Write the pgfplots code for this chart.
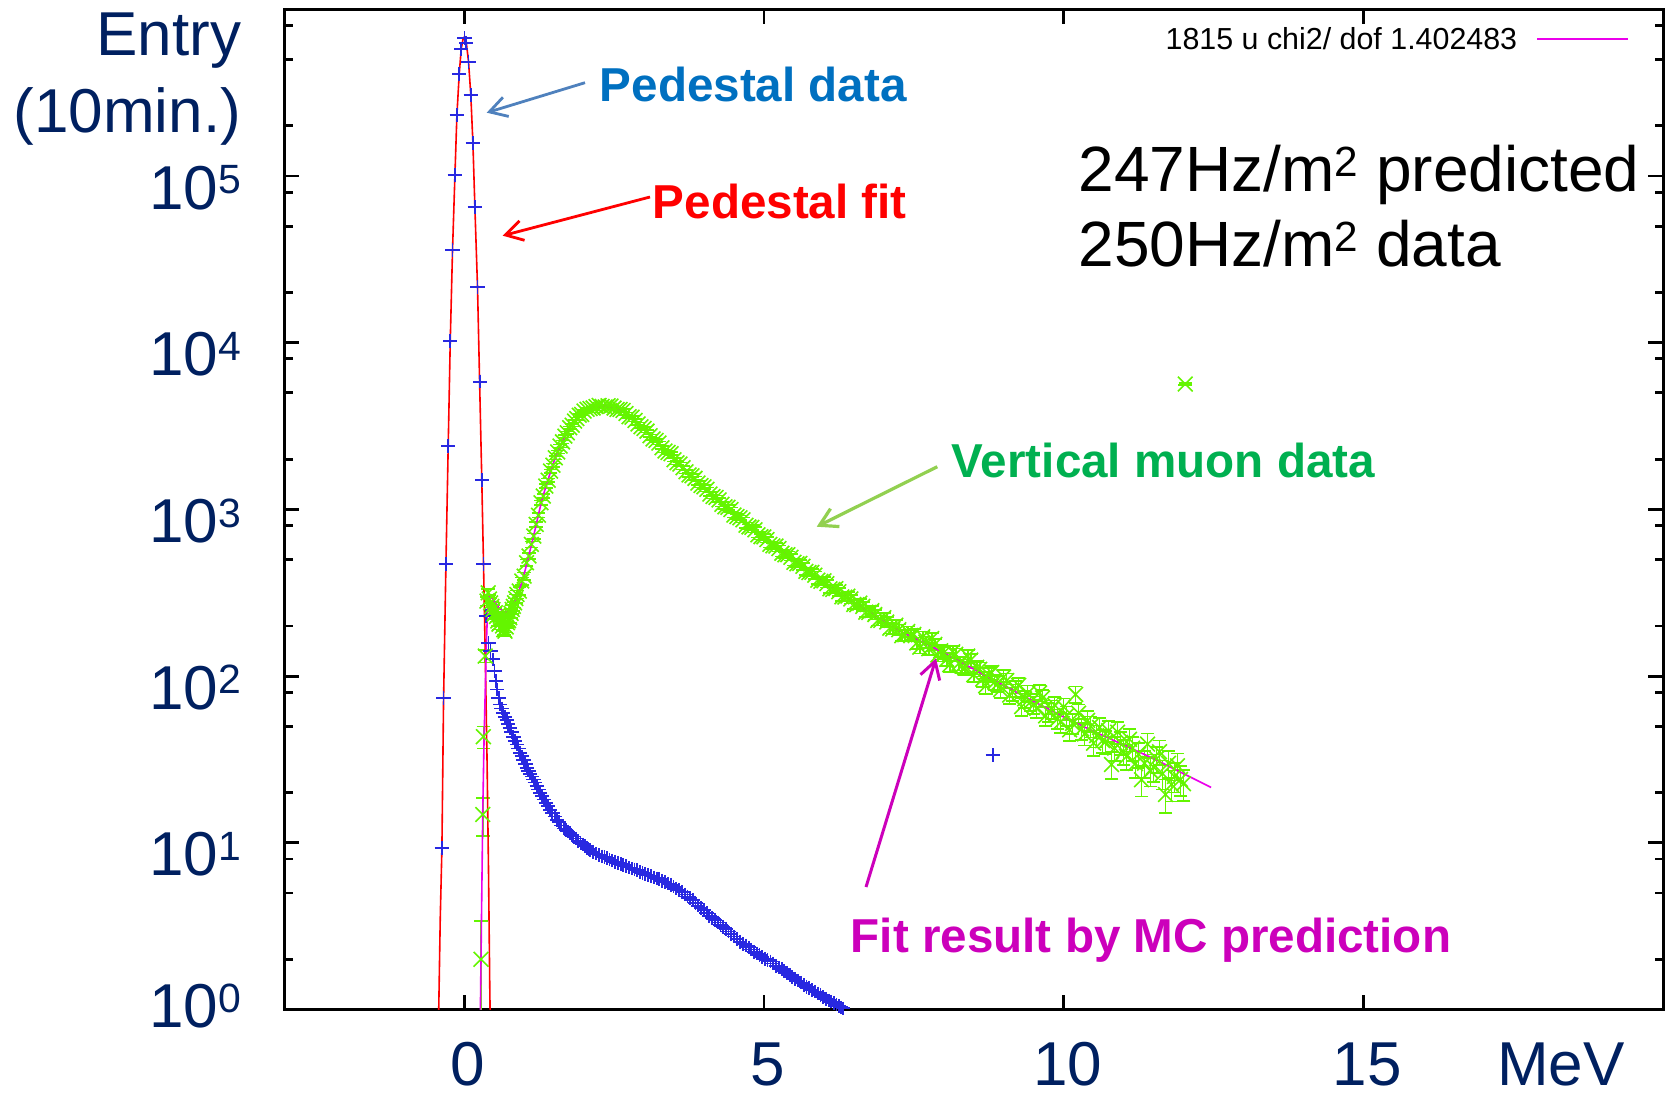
\documentclass[border=0pt]{standalone}
\usepackage{fontspec}
\setmainfont{Liberation Sans}
\usepackage{pgfplots}
\pgfplotsset{compat=1.18}
\usetikzlibrary{arrows.meta}
\definecolor{navy}{RGB}{0,32,96}
\definecolor{pedblue}{RGB}{40,40,225}
\definecolor{limeg}{RGB}{100,245,0}
\definecolor{fitmag}{RGB}{235,0,235}
\definecolor{lblblue}{RGB}{0,112,192}
\definecolor{lblgreen}{RGB}{0,176,80}
\definecolor{lblmag}{RGB}{204,0,187}
\definecolor{arrblue}{RGB}{79,129,189}
\definecolor{arrgreen}{RGB}{146,208,80}
\newcommand{\sups}[1]{\raisebox{0.245em}{\scalebox{0.66}{#1}}}

\pgfplotstableread{
x y
-0.372 9.3
-0.345 73.6
-0.305 469
-0.267 2410
-0.233 10200
-0.195 36000
-0.155 101000
-0.122 232000
-0.083 410000
-0.050 580000
0.005 670000
0.033 630000
0.072 485000
0.110 306000
0.145 158000
0.178 65000
0.222 21500
0.267 5840
0.300 1500
0.322 469
0.367 229
0.405 158
0.44 141
0.478 126
0.505 107
0.53 93.3
0.55 83.2
0.575 74.1
0.60 67.6
0.625 64
0.65 60.3
0.68 57
0.71 54.3
0.735 51.5
0.76 49.0
0.79 46
0.82 43.2
0.85 41
0.88 38.9
0.905 36.8
0.93 34.7
0.96 33
0.99 31.3
1.02 29.7
1.045 28.2
1.07 27.1
1.10 26.0
1.13 25
1.155 24.0
1.18 23
1.21 21.9
1.24 20.9
1.267 20.0
1.30 19.1
1.33 18.2
1.365 17.4
1.40 16.6
1.435 15.8
1.47 15.1
1.51 14.4
1.545 13.7
1.58 13.3
1.62 12.7
1.66 12.2
1.70 11.9
1.73 11.7
1.76 11.4
1.79 11.1
1.82 10.9
1.86 10.6
1.90 10.2
1.94 9.95
1.98 9.77
2.015 9.6
2.05 9.33
2.075 9.15
2.10 9.06
2.15 8.85
2.20 8.61
2.25 8.42
2.30 8.28
2.34 8.2
2.38 8.07
2.425 7.95
2.47 7.82
2.515 7.7
2.56 7.59
2.61 7.45
2.655 7.36
2.70 7.25
2.75 7.11
2.795 7.0
2.84 6.92
2.885 6.84
2.93 6.71
2.975 6.6
3.02 6.53
3.07 6.44
3.12 6.31
3.165 6.2
3.21 6.12
3.255 6.04
3.30 5.92
3.35 5.8
3.40 5.69
3.445 5.6
3.49 5.46
3.535 5.31
3.58 5.19
3.63 5.06
3.68 4.90
3.725 4.76
3.77 4.65
3.815 4.53
3.86 4.37
3.905 4.2
3.95 4.07
4.0 3.95
4.045 3.78
4.09 3.64
4.14 3.55
4.185 3.45
4.23 3.33
4.275 3.22
4.32 3.14
4.365 3.05
4.41 2.94
4.455 2.83
4.50 2.74
4.55 2.66
4.60 2.55
4.65 2.47
4.70 2.42
4.745 2.36
4.79 2.29
4.835 2.22
4.88 2.17
4.925 2.13
4.97 2.07
5.015 2.01
5.06 1.98
5.11 1.94
5.155 1.89
5.2 1.83
5.25 1.79
5.295 1.75
5.34 1.70
5.385 1.66
5.43 1.61
5.475 1.57
5.52 1.52
5.57 1.49
5.62 1.45
5.665 1.40
5.71 1.37
5.755 1.34
5.80 1.31
5.85 1.28
5.90 1.25
5.945 1.22
5.99 1.19
6.035 1.16
6.08 1.135
6.125 1.115
6.17 1.096
6.21 1.07
6.25 1.047
6.285 1.03
6.32 1.016
6.38 0.977
8.82 33.6
}\peddata

\pgfplotstableread{
x y ey
0.28 2.0 1.41
0.31 14.8 3.85
0.32 43.3 6.58
0.35 132 11.5
0.38 282 16.8
0.40 316 17.8
0.42 290 17.0
0.44 275 16.6
0.46 262 16.2
0.48 251 15.8
0.50 236 15.4
0.52 240 15.5
0.54 228 15.1
0.56 214 14.6
0.58 205 14.3
0.60 229 15.1
0.62 221 14.9
0.64 200 14.1
0.66 190 13.8
0.68 186 13.6
0.70 197 14.0
0.72 209 14.5
0.74 215 14.7
0.76 224 15.0
0.78 238 15.4
0.80 251 15.8
0.82 262 16.2
0.84 275 16.6
0.86 292 17.1
0.88 309 17.6
0.92 324 18.0
0.96 372 19.3
1.00 398 20.0
1.04 479 21.9
1.08 525 22.9
1.12 617 24.8
1.16 692 26.3
1.20 813 28.5
1.24 923 30.4
1.28 1096 33.1
1.32 1202 34.7
1.36 1380 37.1
1.40 1496 38.7
1.44 1698 41.2
1.48 1841 42.9
1.52 2042 45.2
1.56 2213 47.0
1.60 2399 49.0
1.64 2541 50.4
1.68 2754 52.5
1.72 2884 53.7
1.76 3090 55.6
1.80 3199 56.6
1.84 3388 58.2
1.88 3508 59.2
1.92 3673 60.6
1.96 3715 60.9
2.00 3890 62.4
2.05 3985 63.1
2.1 4027 63.5
2.15 4060 63.7
2.2 4140 64.3
2.25 4205 64.8
2.3 4150 64.4
2.35 4120 64.2
2.4 4188 64.7
2.45 4170 64.6
2.5 4055 63.7
2.55 3975 63.0
2.6 3981 63.1
2.65 3925 62.6
2.7 3758 61.3
2.75 3600 60.0
2.8 3573 59.8
2.85 3420 58.5
2.9 3258 57.1
2.95 3130 55.9
3.0 3062 55.3
3.05 2950 54.3
3.1 2767 52.6
3.15 2650 51.5
3.2 2594 50.9
3.25 2500 50.0
3.3 2344 48.4
3.35 2240 47.3
3.4 2198 46.9
3.45 2160 46.5
3.5 1986 44.6
3.55 1905 43.6
3.6 1871 43.3
3.65 1780 42.2
3.7 1683 41.0
3.75 1610 40.1
3.8 1592 39.9
3.85 1535 39.2
3.9 1439 37.9
3.95 1392 37.3
4.0 1365 36.9
4.05 1320 36.3
4.1 1236 35.2
4.15 1196 34.6
4.2 1180 34.4
4.25 1140 33.8
4.3 1072 32.7
4.35 1036 32.2
4.4 1028 32.1
4.45 998 31.6
4.5 925 30.4
4.55 905 30.1
4.6 891 29.8
4.65 866 29.4
4.7 804 28.4
4.75 785 28.0
4.8 780 27.9
4.85 755 27.5
4.9 705 26.6
4.95 686 26.2
5.0 684 26.2
5.05 660 25.7
5.1 617 24.8
5.15 604 24.6
5.2 603 24.6
5.25 582 24.1
5.3 546 23.4
5.35 534 23.1
5.4 535 23.1
5.45 516 22.7
5.5 482 22.0
5.55 472 21.7
5.6 474 21.8
5.65 456 21.4
5.7 425 20.6
5.75 418 20.4
5.8 419 20.5
5.85 403 20.1
5.9 376 19.4
5.95 370 19.2
6.0 373 19.3
6.05 359 18.9
6.1 334 18.3
6.15 331 18.2
6.2 335 18.3
6.25 321 17.9
6.3 299 17.3
6.35 298 17.3
6.4 302 17.4
6.45 290 17.0
6.5 269 16.4
6.55 268 16.4
6.6 274 16.6
6.65 262 16.2
6.7 242 15.6
6.75 241 15.5
6.8 247 15.7
6.85 234 15.3
6.9 216 14.7
6.95 216 14.7
7.0 224 15.0
7.05 211 14.5
7.1 194 13.9
7.15 192 13.9
7.2 202 14.2
7.25 190 13.8
7.3 175 13.2
7.35 177 13.3
7.4 185 13.6
7.45 175 13.2
7.5 178 13.3
7.55 158 12.6
7.6 149 12.2
7.65 172 13.1
7.7 160 12.6
7.75 146 12.1
7.8 168 13.0
7.85 155 12.4
7.9 134 11.6
7.95 142 11.9
8.0 138 11.7
8.05 126 11.2
8.1 117 10.8
8.15 140 11.8
8.2 135 11.6
8.25 119 10.9
8.3 115 10.7
8.35 112 10.6
8.4 132 11.5
8.45 125 11.2
8.5 102 10.1
8.55 113 10.6
8.6 110 10.5
8.65 96 9.8
8.7 87.5 9.35
8.75 102 10.1
8.8 105 10.2
8.85 92 9.6
8.9 89.9 9.48
8.95 83 9.1
9.0 98.9 9.94
9.05 94 9.7
9.1 76.9 8.77
9.15 80 8.9
9.2 84.3 9.18
9.25 88 9.4
9.3 65.6 8.10
9.35 73 8.5
9.4 78.9 8.88
9.45 70 8.4
9.5 67.3 8.20
9.55 64 8.0
9.6 79.3 8.91
9.65 74 8.6
9.7 57.7 7.60
9.75 61 7.8
9.8 63.4 7.96
9.85 67 8.2
9.9 55.5 7.45
9.95 53 7.3
10.0 65.3 8.08
10.05 58 7.6
10.1 47.6 6.90
10.15 52 7.2
10.2 77.6 8.81
10.25 60 7.7
10.3 48.2 6.94
10.35 45 6.7
10.4 54.3 7.37
10.45 50 7.1
10.5 39.6 6.29
10.55 44 6.6
10.6 49.2 7.01
10.65 41 6.4
10.7 40.4 6.36
10.75 47 6.9
10.8 29.5 5.43
10.85 37 6.1
10.9 46.1 6.79
10.95 40 6.3
11.0 35.3 5.94
11.05 33 5.7
11.1 41.8 6.47
11.15 37 6.1
11.2 29.9 5.47
11.25 34 5.8
11.3 23.9 4.89
11.35 30 5.5
11.4 39.1 6.25
11.45 27 5.2
11.5 28.5 5.34
11.55 32 5.7
11.6 35.2 5.93
11.65 26 5.1
11.7 19.5 4.42
11.75 30 5.5
11.8 22.4 4.73
11.85 25 5.0
11.9 29.0 5.39
11.95 24 4.9
12.0 22.6 4.75
12.03 5650 75.2
}\muondata

\pgfplotstableread{
x y
-0.450 0.3
-0.425 1.0
-0.400 3.5
-0.372 9.3
-0.345 70
-0.305 469
-0.267 2410
-0.233 10200
-0.195 36000
-0.155 101000
-0.122 232000
-0.083 410000
-0.050 580000
-0.020 660000
0.005 685000
0.033 640000
0.072 485000
0.110 306000
0.145 158000
0.178 65000
0.222 21500
0.256 6000
0.290 1700
0.322 469
0.350 140
0.380 33
0.405 7
0.425 1.5
0.450 0.3
}\pedfit

\pgfplotstableread{
x y
0.25 0.316
0.27 1.0
0.29 3.98
0.31 15.8
0.33 39.8
0.35 79.4
0.37 158
0.39 251
0.41 295
0.44 302
0.50 282
0.58 257
0.66 243
0.72 240
0.80 257
0.878 299
0.95 355
1.017 432
1.085 543
1.155 685
1.225 885
1.295 1138
1.365 1380
1.433 1648
1.50 1950
1.572 2270
1.64 2570
1.71 2858
1.79 3199
1.878 3516
1.96 3758
2.045 3945
2.15 4093
2.267 4169
2.38 4150
2.488 4093
2.60 3954
2.71 3767
2.82 3491
2.933 3206
3.045 2924
3.155 2667
3.27 2432
3.378 2218
3.55 1928
3.71 1683
3.88 1479
4.045 1306
4.27 1109
4.488 948
4.71 813
4.933 701
5.155 610
5.378 532
5.6 462
5.82 404
6.045 355
6.267 313
6.49 279
6.71 249
6.93 221
7.155 195
7.5 170
8.0 138
8.5 110
9.0 88.1
9.5 70.5
10.0 56.9
10.5 46.6
11.0 38.7
11.5 32.0
12.0 26.0
12.46 21.5
}\mcfit

\begin{document}
\begin{tikzpicture}
\path[use as bounding box] (-71.1pt,-21.125pt) rectangle (345.4pt,252.375pt);
\begin{axis}[
  at={(0pt,0pt)}, anchor=south west,
  width=344.65pt, height=250.05pt, scale only axis,
  xmin=-3, xmax=20, ymin=1, ymax=1e6, ymode=log,
  xtick={0,5,10,15}, xticklabels={0,5,10,15},
  ytick={10,100,1000,10000,100000},
  yticklabels={10\sups{1},10\sups{2},10\sups{3},10\sups{4},10\sups{5}},
  extra y ticks={1}, extra y tick labels={10\sups{0}},
  extra y tick style={yticklabel style={yshift=3.65pt}},
  minor ytick={2,5,8,20,50,80,200,500,800,2000,5000,8000,20000,50000,80000,200000,500000,800000},
  major tick length=3.75pt, minor tick length=2.1pt,
  tick style={black, line width=0.7pt},
  axis line style={line width=0.75pt},
  tick label style={font=\fontsize{15.5}{18.6}\selectfont, text=navy},
  xticklabel style={anchor=base, yshift=-18.9pt, xshift=1pt},
  yticklabel style={anchor=base east, inner sep=0pt, xshift=-10.6pt, yshift=-8.25pt},
  every axis y label/.style={at={(axis description cs:-0.0308,0.997)}, anchor=north east, align=right, inner sep=0pt, font=\fontsize{15.5}{19.1}\selectfont, text=navy},
  ylabel={Entry\\(10min.)},
  every axis x label/.style={at={(axis description cs:0.926,0)}, anchor=base, yshift=-18.9pt, font=\fontsize{15.5}{18.6}\selectfont, text=navy},
  xlabel={MeV},
]
\addplot[only marks, mark=+, mark size=1.8pt, color=pedblue, mark options={line width=0.45pt, yscale=0.95}] table[x=x,y=y] {\peddata};
\addplot[only marks, mark=x, mark size=2.6pt, color=limeg, mark options={line width=0.4pt},
  error bars/.cd, y dir=both, y explicit, error mark=-,
  error mark options={rotate=90, limeg, mark size=1.7pt, line width=0.4pt},
  error bar style={limeg, line width=0.4pt}] table[x=x,y=y,y error=ey] {\muondata};
\addplot[red, line width=0.4pt] table[x=x,y=y] {\pedfit};
\addplot[fitmag, line width=0.4pt] table[x=x,y=y] {\mcfit};
\end{axis}
\begin{scope}[x=0.25pt,y=-0.25pt,shift={(-284.4,-1009.5)}]
  % key
  \node[anchor=base east, inner sep=0pt, font=\fontsize{7.6}{9}\selectfont] at (1518,50) {1815 u chi2/ dof 1.402483};
  \draw[fitmag, line width=0.3pt] (1537,39) -- (1628,39);
  % rate text
  \node[anchor=base west, inner sep=0pt, font=\fontsize{16}{19}\selectfont] at (1078,191.7) {247Hz/m\sups{2} predicted};
  \node[anchor=base west, inner sep=0pt, font=\fontsize{16}{19}\selectfont] at (1078,266.7) {250Hz/m\sups{2} data};
  % annotations
  \node[anchor=base west, inner sep=0pt, font=\fontsize{11.9}{14}\selectfont\bfseries, text=lblblue] at (599,101.7) {Pedestal data};
  \node[anchor=base west, inner sep=0pt, font=\fontsize{11.9}{14}\selectfont\bfseries, text=red] at (652,218) {Pedestal fit};
  \node[anchor=base west, inner sep=0pt, font=\fontsize{11.9}{14}\selectfont\bfseries, text=lblgreen] at (951,477) {Vertical muon data};
  \node[anchor=base west, inner sep=0pt, font=\fontsize{11.9}{14}\selectfont\bfseries, text=lblmag] at (850,952) {Fit result by MC prediction};
  \draw[arrblue, line width=0.7pt, -{Straight Barb[length=4.3pt,width=5pt]}] (585,82.7) -- (486.7,112.7);
  \draw[red, line width=0.7pt, -{Straight Barb[length=4.3pt,width=5pt]}] (650,197) -- (502.7,235.7);
  \draw[arrgreen, line width=0.8pt, -{Straight Barb[length=4.3pt,width=5pt]}] (937.3,466.7) -- (816.7,526.7);
  \draw[lblmag, line width=0.75pt, -{Straight Barb[length=4.3pt,width=5pt]}] (866,887) -- (936,658.3);
\end{scope}
\end{tikzpicture}
\end{document}
